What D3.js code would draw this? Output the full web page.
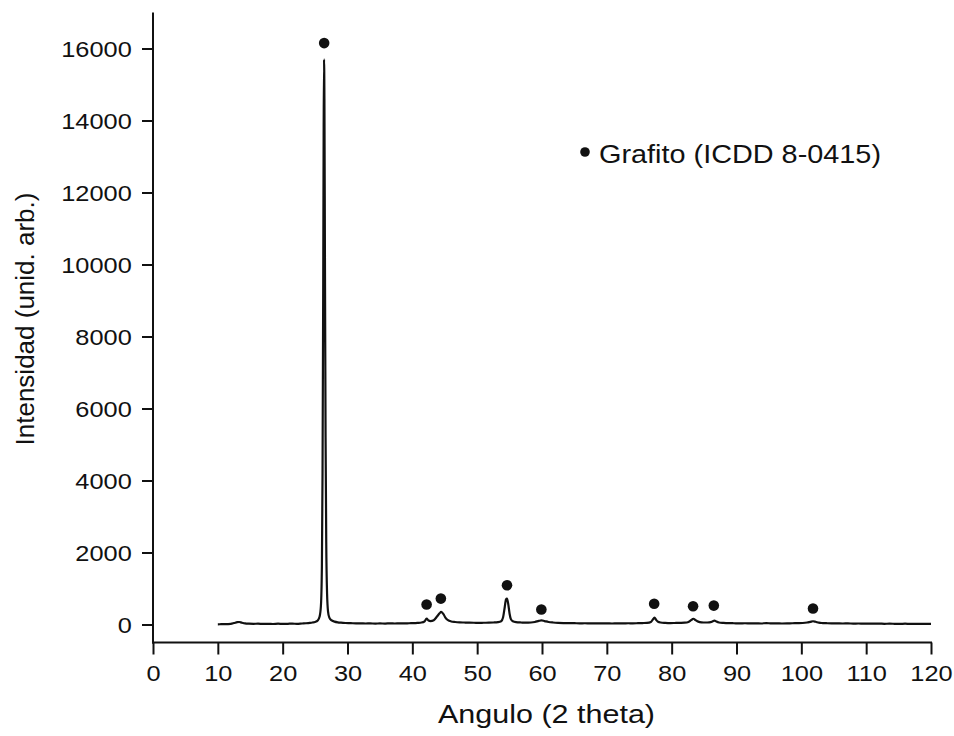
<!DOCTYPE html>
<html>
<head>
<meta charset="utf-8">
<script src="https://cdn.jsdelivr.net/npm/d3@7"></script>
<style>
  body { margin: 0; background: #fff; }
  svg text { font-family: "Liberation Sans", Arial, sans-serif; fill: #111; }
</style>
</head>
<body>
<div id="chart"></div>
<script>
// diffractogram trace
const twoTheta = [
  10.0, 10.5, 11.0, 11.5, 12.0, 12.5, 13.0, 13.3, 13.7, 14.2, 14.8, 15.5, 16.2, 17.0, 17.8,
  18.5, 19.3, 20.0, 20.8, 21.5, 22.2, 23.0, 23.6, 24.2, 24.6, 25.0, 25.4, 25.7, 25.9, 26.05,
  26.15, 26.25, 26.32, 26.38, 26.44, 26.52, 26.62, 26.72, 26.85, 27.0, 27.2, 27.5, 28.0, 28.5,
  29.0, 29.7, 30.5, 31.3, 32.0, 32.8, 33.5, 34.3, 35.0, 35.8, 36.6, 37.3, 38.0, 38.8, 39.5,
  40.2, 40.8, 41.4, 41.9, 42.2, 42.5, 42.8, 43.3, 43.8, 44.2, 44.45, 44.8, 45.1, 45.5, 46.0,
  46.6, 47.3, 48.0, 48.8, 49.5, 50.3, 51.0, 51.8, 52.5, 53.2, 53.7, 54.0, 54.25, 54.45, 54.6,
  54.8, 55.0, 55.2, 55.5, 56.0, 56.8, 57.5, 58.3, 58.9, 59.5, 59.9, 60.4, 61.0, 61.7, 62.5,
  63.3, 64.0, 65.0, 65.8, 66.6, 67.5, 68.3, 69.0, 70.0, 70.8, 71.6, 72.5, 73.3, 74.0, 74.8,
  75.5, 76.2, 76.8, 77.1, 77.35, 77.6, 77.9, 78.3, 79.0, 79.8, 80.5, 81.3, 82.0, 82.6, 83.0,
  83.35, 83.7, 84.1, 84.6, 85.2, 85.8, 86.3, 86.6, 86.9, 87.3, 88.0, 88.8, 89.6, 90.5, 91.3,
  92.2, 93.0, 93.8, 94.6, 95.4, 96.2, 97.0, 97.8, 98.6, 99.4, 100.2, 100.9, 101.4, 101.8, 102.2,
  102.7, 103.3, 104.0, 104.8, 105.6, 106.4, 107.2, 108.0, 108.8, 109.6, 110.4, 111.2, 112.0, 112.8, 113.6,
  114.4, 115.2, 116.0, 116.8, 117.6, 118.4, 119.2, 120.0
];
const intensity = [
  5, 8, 10, 12, 18, 40, 65, 70, 50, 30, 22, 18, 24, 15, 20,
  14, 22, 16, 20, 25, 18, 28, 35, 45, 55, 70, 110, 220, 520, 1600,
  4200, 9200, 13600, 15700, 14600, 10200, 5200, 2300, 850, 360, 190, 120, 80, 60,
  50, 42, 38, 30, 34, 28, 32, 25, 30, 26, 32, 28, 33, 30, 35,
  38, 45, 55, 90, 165, 110, 95, 120, 220, 310, 350, 290, 190, 120, 85,
  70, 60, 55, 50, 48, 45, 48, 50, 55, 65, 90, 200, 480, 700, 720,
  560, 300, 150, 90, 65, 55, 50, 55, 70, 100, 115, 95, 70, 55, 45,
  40, 38, 36, 32, 35, 30, 34, 30, 32, 28, 33, 30, 35, 32, 36,
  40, 45, 70, 140, 190, 130, 75, 55, 45, 40, 42, 45, 50, 70, 120,
  160, 120, 80, 60, 55, 60, 85, 110, 80, 55, 45, 38, 35, 32, 35,
  30, 33, 28, 40, 30, 32, 28, 30, 35, 38, 42, 55, 75, 90, 75,
  50, 40, 35, 32, 30, 28, 30, 26, 28, 24, 25, 22, 24, 20, 22,
  20, 18, 22, 18, 20, 18, 16, 15
];

// graphite reflections (ICDD 8-0415) markers
const markerAngles = [26.4, 42.2, 44.4, 54.6, 59.9, 77.3, 83.3, 86.5, 101.8];
const markerHeights = [16150, 555, 720, 1090, 415, 575, 505, 525, 445];

const xTicks = d3.range(0, 121, 10);
const xMinor = d3.range(5, 120, 10);
const yTicks = d3.range(0, 16001, 2000);
const yMinor = d3.range(1000, 17000, 2000);

const legendLabel = "Grafito (ICDD 8-0415)";
const xTitle = "Angulo (2 theta)";
const yTitle = "Intensidad (unid. arb.)";

const width = 954, height = 736;
const x = d3.scaleLinear().domain([0, 120]).range([153, 931]);
const y = d3.scaleLinear().domain([-500, 17000]).range([642.5, 12.5]);

const svg = d3.select("#chart").append("svg")
  .attr("width", width)
  .attr("height", height)
  .attr("viewBox", `0 0 ${width} ${height}`);

// the scan's lettering is a little wider than the font
const stretch = 1.18;

// x axis
const gx = svg.append("g").attr("transform", `translate(0,${y(-500)})`);
gx.call(d3.axisBottom(x).tickValues(xMinor).tickSize(7).tickFormat(""));
gx.call(d3.axisBottom(x).tickValues(xTicks).tickSize(12).tickPadding(11).tickFormat(d3.format("d")));
gx.selectAll("path.domain").remove();
gx.append("line")
  .attr("x1", x(0) - 1).attr("x2", x(120) + 1)
  .attr("stroke", "#111").attr("stroke-width", 2);
gx.selectAll("line").attr("stroke", "#111").attr("stroke-width", 2);
gx.selectAll("text")
  .style("font-size", "21.5px")
  .attr("transform", `scale(${stretch},1)`);

// y axis
const gy = svg.append("g").attr("transform", `translate(${x(0)},0)`);
gy.call(d3.axisLeft(y).tickValues(yMinor).tickSize(6).tickFormat(""));
gy.call(d3.axisLeft(y).tickValues(yTicks).tickSize(11).tickPadding(7).tickFormat(d3.format("d")));
gy.selectAll("path.domain").remove();
gy.append("line")
  .attr("y1", y(17000)).attr("y2", y(-500) + 1)
  .attr("stroke", "#111").attr("stroke-width", 2);
gy.selectAll("line").attr("stroke", "#111").attr("stroke-width", 2);
gy.selectAll("text")
  .style("font-size", "21.5px")
  .attr("dy", "0.36em")
  .attr("transform", `scale(${stretch},1)`);

// trace
const trace = twoTheta.map((t, i) => [t, intensity[i]]);
const line = d3.line()
  .x(d => x(d[0]))
  .y(d => y(d[1]))
  .curve(d3.curveMonotoneX);

svg.append("path")
  .datum(trace)
  .attr("fill", "none")
  .attr("stroke", "#111")
  .attr("stroke-width", 2.2)
  .attr("stroke-linejoin", "round")
  .attr("d", line);

// peak markers
svg.selectAll("circle.mark")
  .data(markerAngles)
  .enter()
  .append("circle")
  .attr("class", "mark")
  .attr("cx", d => x(d))
  .attr("cy", (d, i) => y(markerHeights[i]))
  .attr("r", 5.3)
  .attr("fill", "#111");

// legend
svg.append("circle")
  .attr("cx", 585).attr("cy", 152)
  .attr("r", 4.8)
  .attr("fill", "#111");
svg.append("text")
  .attr("x", 599).attr("y", 163)
  .style("font-size", "25.5px")
  .attr("textLength", 282)
  .attr("lengthAdjust", "spacingAndGlyphs")
  .text(legendLabel);

// axis titles
svg.append("text")
  .attr("x", 438).attr("y", 723)
  .style("font-size", "25.5px")
  .attr("textLength", 217)
  .attr("lengthAdjust", "spacingAndGlyphs")
  .text(xTitle);

svg.append("text")
  .attr("transform", `translate(34,319) rotate(-90)`)
  .attr("text-anchor", "middle")
  .style("font-size", "26px")
  .text(yTitle);
</script>
</body>
</html>
